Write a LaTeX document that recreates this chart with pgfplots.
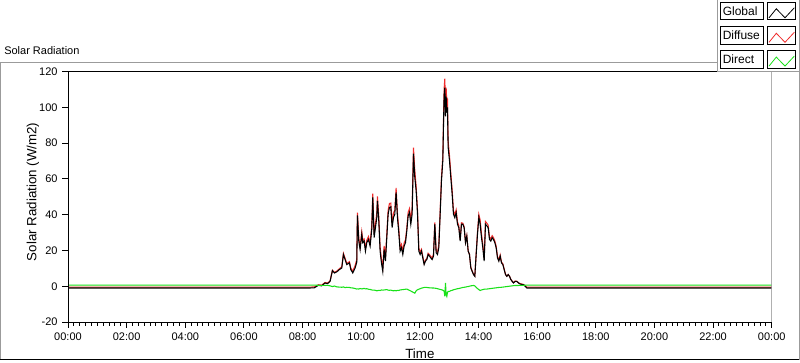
\documentclass[border=0pt]{standalone}
\usepackage{pgfplots}
\pgfplotsset{compat=1.18}
\usepackage{pgfplotstable}
\usepackage{fontspec}
\setmainfont{Liberation Sans}
\definecolor{lvred}{RGB}{240,45,45}
\definecolor{lvgreen}{RGB}{25,225,25}
\definecolor{framegray}{RGB}{155,155,155}
\definecolor{edgegray}{RGB}{135,135,135}
\pgfplotstableread{
h G D R
0 -0.9 -0.4 0.7
8.256 -0.9 -0.4 0.7
8.40 -0.8 -0.3 0.7
8.540 0.6 0.9 0.6
8.65 0.3 0.7 0.6
8.768 1.9 2.2 0.5
8.85 1.5 1.8 0.6
8.938 2.8 3.1 0.3
9.018 8.8 9.0 -0.1
9.086 7.5 7.8 0.2
9.166 8.1 8.5 -0.3
9.257 9.4 9.9 -0.4
9.337 10.3 10.9 -0.5
9.393 17.8 18.4 -0.3
9.450 15.0 15.7 -0.7
9.507 12.2 12.8 -0.5
9.598 13.1 13.8 -0.6
9.644 9.4 10.2 -0.8
9.712 7.5 8.5 -0.9
9.792 10.3 11.6 -1.2
9.848 13.5 15.0 -1.5
9.871 39.7 41.2 -1.4
9.917 25.3 26.8 -1.5
9.962 20.6 22.0 -1.2
10.019 29.1 30.5 -1.4
10.053 24.4 25.7 -1.3
10.099 25.3 26.5 -1.1
10.144 19.7 21.1 -1.4
10.190 24.4 25.7 -1.3
10.246 26.2 27.8 -1.6
10.303 22.5 24.2 -1.7
10.360 31.9 33.9 -2.0
10.394 49.7 51.8 -2.1
10.440 27.2 29.3 -2.1
10.485 32.8 35.0 -2.2
10.531 38.4 40.9 -2.5
10.553 47.8 50.2 -2.4
10.599 36.6 38.8 -2.2
10.644 19.7 22.0 -2.3
10.690 13.1 15.1 -2.0
10.735 8.4 10.5 -2.1
10.781 20.6 22.6 -2.0
10.826 14.1 16.0 -1.9
10.872 27.2 29.0 -1.8
10.917 40.3 42.4 -2.1
10.963 44.1 46.3 -2.2
11.008 44.4 46.5 -2.1
11.054 32.8 35.1 -2.3
11.099 38.4 40.9 -2.5
11.145 40.3 42.6 -2.3
11.190 52.5 55.0 -2.5
11.236 38.4 40.6 -2.2
11.281 30.0 32.3 -2.3
11.327 19.7 21.7 -2.0
11.372 21.6 23.5 -1.9
11.418 17.8 19.6 -1.8
11.463 22.5 24.2 -1.7
11.509 24.4 26.0 -1.6
11.554 30.9 32.4 -1.5
11.600 39.4 41.3 -1.9
11.645 41.2 43.4 -2.2
11.691 34.7 37.3 -2.6
11.736 40.3 43.3 -3.0
11.782 74.1 77.5 -3.4
11.827 60.9 64.7 -3.8
11.873 53.4 55.9 -2.5
11.918 41.2 43.1 -1.9
11.964 19.7 21.3 -1.6
12.009 17.8 19.1 -1.3
12.055 19.7 20.7 -1.0
12.100 15.9 16.7 -0.8
12.146 12.2 12.8 -0.6
12.191 14.1 14.7 -0.6
12.237 15.0 15.6 -0.6
12.282 17.8 18.5 -0.7
12.328 16.9 17.7 -0.8
12.373 15.9 16.7 -0.8
12.419 15.0 15.9 -0.9
12.464 16.9 17.8 -0.9
12.510 34.7 35.7 -1.0
12.555 18.8 19.9 -1.1
12.601 17.8 19.1 -1.3
12.646 21.6 23.1 -1.5
12.692 40.3 42.0 -1.7
12.737 59.1 61.0 -1.9
12.783 70.3 72.4 -2.1
12.806 90.0 93.0 -2.4
12.828 107.0 110.5 -2.8
12.851 111.0 116.0 -5.6
12.874 95.0 99.0 1.9
12.896 106.0 111.0 -4.7
12.919 97.0 103.0 -5.6
12.942 100.0 104.0 -3.5
12.964 77.8 81.0 -2.8
13.010 70.3 73.1 -2.8
13.055 60.9 63.3 -2.4
13.101 51.6 53.8 -2.2
13.146 40.3 42.2 -1.9
13.192 38.4 40.1 -1.7
13.237 41.2 42.7 -1.5
13.283 34.7 36.0 -1.3
13.328 32.8 34.0 -1.2
13.374 25.3 26.3 -1.0
13.419 34.7 35.5 -0.8
13.465 34.7 35.3 -0.6
13.510 32.8 33.3 -0.5
13.556 24.4 24.8 -0.4
13.601 28.1 28.3 -0.2
13.647 19.7 19.8 -0.1
13.692 17.8 17.9 0.1
13.738 10.3 10.6 0.3
13.783 8.4 8.7 0.4
13.829 6.6 6.8 0.5
13.874 5.6 5.9 0.3
13.920 17.8 18.3 -0.5
13.965 29.1 30.3 -1.2
14.011 38.4 40.2 -1.8
14.056 34.7 37.0 -2.3
14.102 27.2 29.2 -2.0
14.147 21.6 23.4 -1.8
14.193 14.1 15.7 -1.6
14.238 34.7 36.2 -1.5
14.284 33.8 35.3 -1.5
14.329 32.8 34.2 -1.4
14.375 26.2 27.5 -1.3
14.420 25.3 26.5 -1.2
14.466 27.2 28.3 -1.1
14.511 26.2 27.2 -1.0
14.557 24.4 25.3 -0.9
14.602 21.6 22.4 -0.8
14.648 15.9 16.6 -0.7
14.693 14.1 14.7 -0.6
14.739 16.9 17.5 -0.6
14.784 13.1 13.6 -0.5
14.830 12.2 12.6 -0.4
14.875 9.4 9.7 -0.3
14.921 6.6 6.8 -0.2
14.966 5.6 5.7 -0.1
15.012 6.6 6.6 0.0
15.057 5.6 5.7 0.1
15.103 3.8 3.9 0.2
15.148 2.8 2.9 0.3
15.193 1.9 2.1 0.4
15.250 2.8 3.0 0.5
15.307 2.8 2.9 0.5
15.364 1.9 2.0 0.5
15.421 1.3 1.5 0.6
15.535 0.9 1.1 0.6
15.648 -0.9 -0.4 0.7
24 -0.9 -0.4 0.7
}\solar
\begin{document}
\begin{tikzpicture}
\begin{scope}[x=0.75pt,y=0.75pt]
\useasboundingbox (0,0) rectangle (800,361);
\fill[white] (0,0) rectangle (800,361);
% outer panel frame
\draw[framegray,line width=0.75pt] (0.5,1.5) -- (0.5,299) -- (717,299);
\draw[black,line width=0.75pt] (0,1.5) -- (800,1.5);
\draw[framegray,line width=0.75pt] (799.5,1.5) -- (799.5,361);
\node[anchor=west,inner sep=0pt,font=\fontsize{8.25pt}{10pt}\selectfont] at (4,310.5) {Solar Radiation};
\end{scope}
\begin{axis}[
  at={(51pt,29.48pt)}, anchor=south west,
  scale only axis, width=527.8pt, height=188pt,
  xmin=0, xmax=24, ymin=-20, ymax=120,
  xtick={0,2,...,24},
  xticklabels={00:00,02:00,04:00,06:00,08:00,10:00,12:00,14:00,16:00,18:00,20:00,22:00,00:00},
  minor x tick num=9,
  ytick={-20,0,20,40,60,80,100,120},
  xtick pos=left, ytick pos=left,
  tick align=outside,
  major tick length=4.3pt, minor tick length=2.6pt,
  tick style={black, line width=0.75pt},
  axis line style={draw=none},
  /pgf/number format/assume math mode=true,
  ticklabel style={font=\fontsize{8.25pt}{10pt}\selectfont, text=black},
  label style={font=\fontsize{8.25pt}{10pt}\selectfont},
  xlabel={Time}, ylabel={Solar Radiation (W/m2)},
  every axis x label/.style={at={(axis description cs:0.5,-0.125)}, anchor=center},
  every axis y label/.style={at={(axis description cs:-0.0497,0.52)}, anchor=center, rotate=90},
  clip=true,
]
\addplot[lvred, line width=0.8pt] table[x=h, y=D] {\solar};
\addplot[black, line width=0.8pt] table[x=h, y=G] {\solar};
\addplot[lvgreen, line width=0.8pt] table[x=h, y=R] {\solar};
\draw[edgegray, line width=0.75pt] (rel axis cs:1,0) -- (rel axis cs:1,1);
\draw[black, line width=0.75pt] (rel axis cs:0,0) -- (rel axis cs:1,0);
\draw[black, line width=0.75pt] (rel axis cs:0,0) -- (rel axis cs:0,1) -- (rel axis cs:1,1);
\end{axis}
\begin{scope}[x=0.75pt,y=0.75pt]
% legend panel
\fill[white] (717,289) rectangle (799,361);
\draw[framegray, line width=0.75pt] (717.5,361) -- (717.5,289.5) -- (799.5,289.5);
\foreach \t/\lab/\col in {1.7/Global/black, 26.2/Diffuse/lvred, 50/Direct/lvgreen}{
  \draw[black, line width=0.75pt] (720.7,361-\t) rectangle (763.3,361-\t-17.8);
  \node[anchor=west, inner sep=0pt, font=\fontsize{9pt}{10pt}\selectfont] at (722.5,361-\t-9) {\lab};
  \draw[black, line width=0.75pt] (767.7,361-\t) rectangle (795.7,361-\t-17.8);
  \draw[\col, line width=0.6pt] (769,361-\t-15.6) -- (776.3,361-\t-6.6) -- (785,361-\t-15.6) -- (794.3,361-\t-5.6);
}
\end{scope}
\end{tikzpicture}
\end{document}
